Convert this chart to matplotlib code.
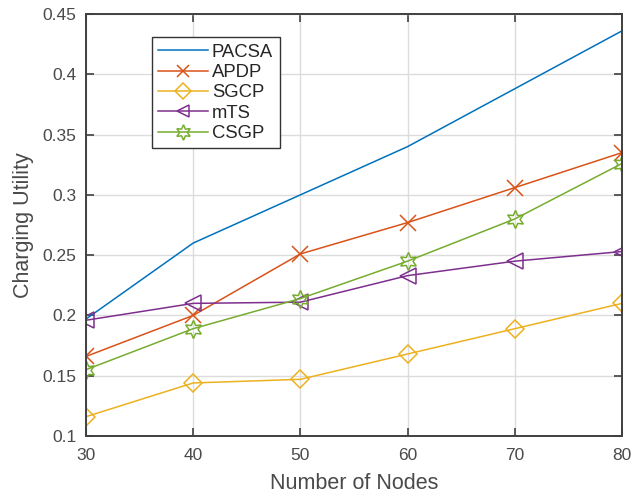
import matplotlib.pyplot as plt
import numpy as np

plt.rcParams['font.family'] = ['Liberation Sans', 'DejaVu Sans']

nodes = [30, 40, 50, 60, 70, 80]
pacsa = [0.197, 0.260, 0.300, 0.340, 0.388, 0.436]
apdp = [0.166, 0.200, 0.251, 0.277, 0.306, 0.335]
sgcp = [0.116, 0.144, 0.147, 0.168, 0.189, 0.210]
mts = [0.196, 0.210, 0.211, 0.233, 0.245, 0.253]
csgp = [0.155, 0.189, 0.214, 0.245, 0.280, 0.326]

fig = plt.figure(figsize=(6.44, 4.98), dpi=100)
ax = fig.add_axes([0.1335, 0.1245, 0.8323, 0.8474])

txt = '#4a4a4a'
ax.plot(nodes, pacsa, color='#0072BD', lw=1.1, label='PACSA')
ax.plot(nodes, apdp, color='#D95319', lw=1.1, marker='x', ms=11, mew=1.1, label='APDP')
ax.plot(nodes, sgcp, color='#EDB120', lw=1.1, marker='D', ms=9, mew=1.1, mfc='none', label='SGCP')
ax.plot(nodes, mts, color='#7E2F8E', lw=1.1, marker='<', ms=11, mew=1.1, mfc='none', label='mTS')
ax.plot(nodes, csgp, color='#77AC30', lw=1.1, marker=(6, 1, 0), ms=13, mew=1.1, mfc='none', label='CSGP')

ax.set_xlim(30, 80)
ax.set_ylim(0.1, 0.45)
ax.set_xticks(nodes)
ax.set_yticks(np.arange(0.1, 0.451, 0.05))
ax.set_yticklabels(['0.1', '0.15', '0.2', '0.25', '0.3', '0.35', '0.4', '0.45'])
ax.grid(True, color='#dcdcdc', lw=1.0)
ax.set_axisbelow(True)
ax.tick_params(direction='in', top=True, right=True, length=6, width=1.2,
               colors='#404040', labelcolor=txt, labelsize=12.5, pad=7)
ax.tick_params(axis='x', pad=9)
for s in ax.spines.values():
    s.set_color('#404040')
    s.set_linewidth(1.4)

ax.set_xlabel('Number of Nodes', fontsize=15.5, color=txt, labelpad=7)
ax.set_ylabel('Charging Utility', fontsize=15.5, color=txt, labelpad=6)

leg = ax.legend(loc='upper left', bbox_to_anchor=(0.123, 0.945), borderaxespad=0,
                fontsize=13.3, handlelength=2.7, handletextpad=0.2, labelspacing=0.18,
                borderpad=0.35, fancybox=False, framealpha=1, edgecolor='#333333',
                markerscale=0.85)
leg.get_frame().set_linewidth(1.0)
for t in leg.get_texts():
    t.set_color('#262626')

fig.savefig('out.png', dpi=100)
